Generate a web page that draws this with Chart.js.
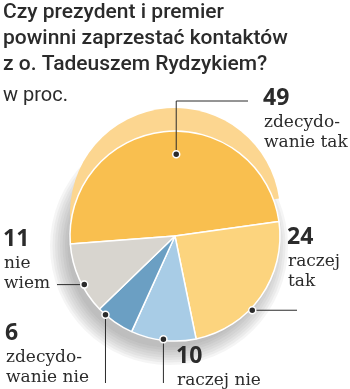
<!DOCTYPE html>
<html lang="pl">
<head>
<meta charset="utf-8">
<script src="https://cdn.jsdelivr.net/npm/chart.js@4"></script>
<style>
    body { margin: 0; background: #fff; }
    #myChart { display: block; }
</style>
</head>
<body>
<canvas id="myChart" width="350" height="389"></canvas>
<script>
const categories = ['zdecydowanie tak', 'raczej tak', 'raczej nie', 'zdecydowanie nie', 'nie wiem'];
const values = [49, 24, 10, 6, 11];
const labelLines = [['zdecydo-', 'wanie tak'], ['raczej', 'tak'], ['raczej nie'], ['zdecydo-', 'wanie nie'], ['nie', 'wiem']];
const sliceColors = ['#f9bf4f', '#fcd47e', '#a8cce6', '#6b9fc3', '#d8d5cf'];
const titleLines = ['Czy prezydent i premier', 'powinni zaprzestać kontaktów', 'z o. Tadeuszem Rydzykiem?'];
const unitLabel = 'w proc.';

const textColor = '#2b2b2b';
const lift = 23; // how far the raised side of the big slice shows above it

// callouts: dot position inside the slice (along = share of the angle, depth = share of radius),
// the leader path after the dot, and where the number goes
const callouts = [
    { along: 0.54, depth: 0.78, path: [{ y: 101 }, { x: 248 }], x: 263, y: 105 },
    { along: 0.60, depth: 1.02, path: [{ x: 297 }], x: 287, y: 244 },
    { along: 0.50, depth: 0.99, path: [{ y: 383 }], x: 176, y: 363 },
    { along: 0.79, depth: 1.00, path: [{ y: 383 }], x: 5, y: 340 },
    { along: 0.40, depth: 0.98, path: [{ x: 57 }], x: 3, y: 246 }
];

const pieExtras = {
    id: 'pieExtras',
    beforeDatasetsDraw(chart) {
        const ctx = chart.ctx;
        const first = chart.getDatasetMeta(0).data[0];
        const R = first.outerRadius;

        // soft shadow under the pie: stacked faint discs, down and to the left
        ctx.save();
        ctx.fillStyle = 'rgba(90, 90, 90, 0.06)';
        for (let k = 0; k < 8; k++) {
            ctx.beginPath();
            ctx.arc(first.x - 6, first.y + 10, R + 14 - k * 2.5, 0, Math.PI * 2);
            ctx.fill();
        }
        ctx.restore();

        // raised side of the biggest slice
        ctx.save();
        ctx.fillStyle = '#fcd690';
        ctx.beginPath();
        ctx.moveTo(first.x, first.y - lift);
        ctx.arc(first.x, first.y - lift, R, first.startAngle, first.endAngle);
        ctx.closePath();
        ctx.fill();
        ctx.restore();
    },
    afterDatasetsDraw(chart) {
        const ctx = chart.ctx;
        const arcs = chart.getDatasetMeta(0).data;
        ctx.save();
        callouts.forEach((c, i) => {
            const arc = arcs[i];
            const angle = arc.startAngle + (arc.endAngle - arc.startAngle) * c.along;
            const r = arc.outerRadius * c.depth;
            const dx = arc.x + Math.cos(angle) * r;
            const dy = arc.y + Math.sin(angle) * r;

            // leader line
            ctx.strokeStyle = textColor;
            ctx.lineWidth = 1;
            ctx.beginPath();
            ctx.moveTo(dx, dy);
            let px = dx, py = dy;
            c.path.forEach(p => {
                if (p.x !== undefined) px = p.x;
                if (p.y !== undefined) py = p.y;
                ctx.lineTo(px, py);
            });
            ctx.stroke();

            // dot
            ctx.fillStyle = textColor;
            ctx.strokeStyle = '#fff';
            ctx.lineWidth = 1.5;
            ctx.beginPath();
            ctx.arc(dx, dy, 3.5, 0, Math.PI * 2);
            ctx.fill();
            ctx.stroke();

            // value and category
            ctx.textAlign = 'left';
            ctx.textBaseline = 'alphabetic';
            ctx.fillStyle = textColor;
            ctx.font = 'bold 23px "Open Sans"';
            ctx.fillText(String(values[i]), c.x, c.y);
            ctx.font = '17px "DejaVu Serif"';
            labelLines[i].forEach((line, k) => {
                ctx.fillText(line, c.x + 1, c.y + 22 + k * 20);
            });
        });
        ctx.restore();
    }
};

const ctx = document.getElementById('myChart').getContext('2d');

const myChart = new Chart(ctx, {
    type: 'pie',
    data: {
        labels: categories,
        datasets: [{
            data: values,
            backgroundColor: sliceColors,
            borderColor: '#fff',
            borderWidth: 1.5,
            hoverOffset: 0
        }]
    },
    options: {
        responsive: false,
        animation: false,
        events: [],
        rotation: -94.4,
        radius: 105,
        layout: {
            padding: { left: 3, right: 3, top: 0, bottom: 31 }
        },
        plugins: {
            legend: { display: false },
            tooltip: { enabled: false },
            title: {
                display: true,
                text: titleLines,
                align: 'start',
                color: textColor,
                font: { family: 'Roboto', size: 21, weight: 500, lineHeight: 1.24 },
                padding: { top: 0, bottom: 0 }
            },
            subtitle: {
                display: true,
                text: unitLabel,
                align: 'start',
                color: textColor,
                font: { family: 'Roboto', size: 20, weight: 'normal', lineHeight: 1.3 },
                padding: { top: 5, bottom: 5 }
            }
        }
    },
    plugins: [pieExtras]
});
</script>
</body>
</html>
